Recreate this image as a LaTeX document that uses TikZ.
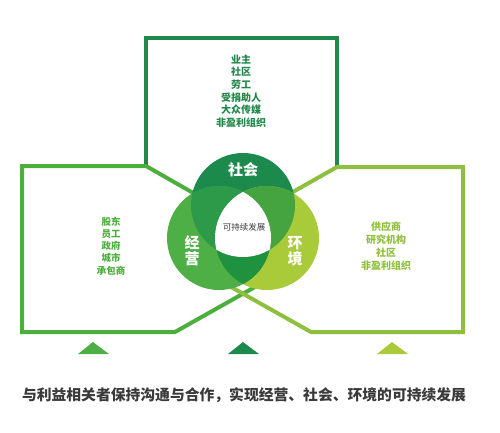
\documentclass[tikz,border=0pt]{standalone}
\usepackage{fontspec}
\setmainfont{Noto Sans CJK SC}
\definecolor{socgreen}{HTML}{1B8A4C}
\definecolor{opgreen}{HTML}{4DAF45}
\definecolor{envgreen}{HTML}{A9CB3A}
\definecolor{socop}{HTML}{2C9A48}
\definecolor{socenv}{HTML}{45A440}
\definecolor{openv}{HTML}{1F9240}
\definecolor{socline}{HTML}{22884A}
\definecolor{opline}{HTML}{4CAE3C}
\definecolor{envline}{HTML}{8FBF3E}
\definecolor{captext}{HTML}{3A3A3A}

\begin{document}
\begin{tikzpicture}[x=1pt, y=-1pt,
    frame/.style={line width=4pt, line join=miter},
    list/.style={align=center, font=\bfseries\fontsize{10}{12.6}\selectfont, inner sep=0pt},
    ring/.style={text=white, font=\bfseries\fontsize{15}{16}\selectfont, inner sep=0pt}
]
    \useasboundingbox (0,0) rectangle (500,432);

    % box corners
    \coordinate (tl) at (146,166);
    \coordinate (tr) at (337,167);
    \coordinate (bl) at (175,332);
    \coordinate (br) at (311,332);

    % box frames
    \draw[frame, socline] (tl) -- (146,38) -- (337,38) -- (tr);
    \draw[frame, opline] (202,198) -- (tl) -- (22,166) -- (22,332) -- (bl) -- (262,283);
    \draw[frame, envline] (284,197) -- (tr) -- (463,167) -- (463,332) -- (br) -- (224,283);

    % venn
    \coordinate (soc) at (243,205);
    \coordinate (op) at (219,238);
    \coordinate (env) at (267,238);
    \fill[socgreen] (soc) circle (52pt);
    \fill[opgreen] (op) circle (52pt);
    \fill[envgreen] (env) circle (52pt);
    \begin{scope}
        \clip (soc) circle (52pt);
        \fill[socop] (op) circle (52pt);
        \fill[socenv] (env) circle (52pt);
    \end{scope}
    \begin{scope}
        \clip (op) circle (52pt);
        \fill[openv] (env) circle (52pt);
    \end{scope}
    \begin{scope}
        \clip (soc) circle (52pt);
        \clip (op) circle (52pt);
        \fill[white] (env) circle (52pt);
    \end{scope}

    % labels
    \node[ring] (soc label) at (243,170) {社会};
    \node[ring, align=center] (op label) at (192,251) {经\\营};
    \node[ring, align=center] (env label) at (295,251) {环\\境};
    \node[inner sep=0pt, text=captext, font=\fontsize{8.5}{10}\selectfont] (core) at (244,227) {可持续发展};

    % stakeholder lists
    \node[list, text=socline] (soc list) at (241,91) {业主\\社区\\劳工\\受捐助人\\大众传媒\\非盈利组织};
    \node[list, text=opline, font=\bfseries\fontsize{9.5}{12.3}\selectfont] (op list) at (111,246) {股东\\员工\\政府\\城市\\承包商};
    \node[list, text=envline, font=\bfseries\fontsize{10}{13}\selectfont] (env list) at (386,246) {供应商\\研究机构\\社区\\非盈利组织};

    % pointers
    \fill[opgreen] (78,354) -- (93,342) -- (109,354) -- cycle;
    \fill[socgreen] (228,354) -- (243,342) -- (259,354) -- cycle;
    \fill[envgreen] (377,354) -- (392,342) -- (408,354) -- cycle;

    % caption
    \node[inner sep=0pt, text=captext, font=\bfseries\fontsize{14.8}{16}\selectfont] (caption) at (244,395)
        {与利益相关者保持沟通与合作，实现经营、社会、环境的可持续发展};
\end{tikzpicture}
\end{document}
